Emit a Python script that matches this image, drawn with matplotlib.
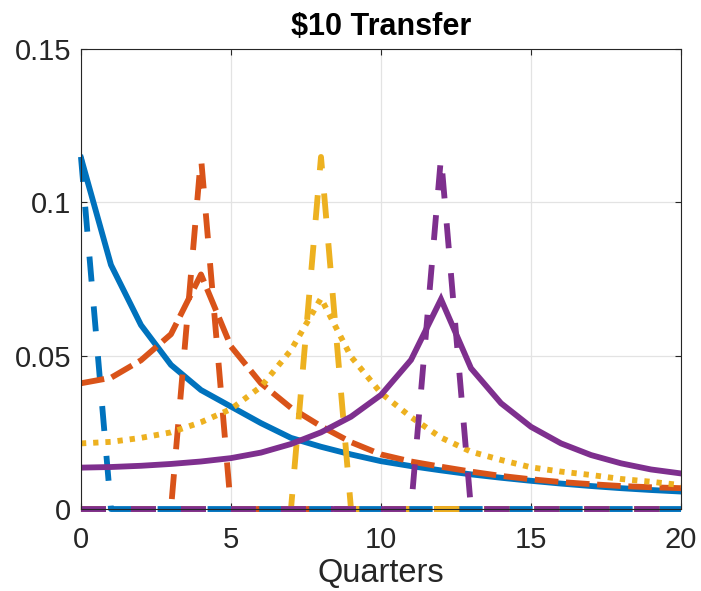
import matplotlib
matplotlib.use("Agg")
import matplotlib.pyplot as plt

plt.rcParams['font.family'] = ['Liberation Sans', 'DejaVu Sans']
plt.rcParams['lines.scale_dashes'] = False

quarters = list(range(21))

# smooth responses
blue_resp = [0.1145, 0.0796, 0.0600, 0.0470, 0.0388, 0.0334, 0.0280, 0.0232, 0.0203, 0.0178,
             0.0156, 0.0140, 0.0126, 0.0113, 0.0102, 0.0092, 0.0083, 0.0075, 0.0068, 0.0062, 0.0057]
orange_resp = [0.0410, 0.0428, 0.0485, 0.0570, 0.0765, 0.0530, 0.0410, 0.0330, 0.0270, 0.0218,
               0.0178, 0.0155, 0.0138, 0.0122, 0.0108, 0.0097, 0.0088, 0.0081, 0.0075, 0.0071, 0.0068]
yellow_resp = [0.0214, 0.0219, 0.0232, 0.0250, 0.0283, 0.0326, 0.0399, 0.0518, 0.0687, 0.0497,
               0.0378, 0.0300, 0.0233, 0.0187, 0.0160, 0.0136, 0.0122, 0.0111, 0.0098, 0.0089, 0.0078]
purple_resp = [0.0135, 0.0137, 0.0141, 0.0147, 0.0155, 0.0166, 0.0184, 0.0212, 0.0250, 0.0301,
               0.0372, 0.0486, 0.0684, 0.0459, 0.0345, 0.0268, 0.0214, 0.0176, 0.0149, 0.0129, 0.0116]

# one-quarter transfer spikes
spike_height = 0.1148
spike_quarters = [0, 4, 8, 12]

colors = ['#0072BD', '#D95319', '#EDB120', '#7E2F8E']
LW = 4.2

fig = plt.figure(figsize=(7.01, 5.91), dpi=100)
ax = fig.add_axes([0.1155, 0.1387, 0.856, 0.7784])

resp = [blue_resp, orange_resp, yellow_resp, purple_resp]
resp_dash = [None, (17, 5.5), (3.8, 5), None]

for i in range(4):
    line, = ax.plot(quarters, resp[i], color=colors[i], lw=LW, solid_joinstyle='miter')
    if resp_dash[i] is not None:
        line.set_dashes(resp_dash[i])
        line.set_dash_capstyle('butt')
    spike = [spike_height if q == spike_quarters[i] else 0 for q in quarters]
    s, = ax.plot(quarters, spike, color=colors[i], lw=LW, clip_on=False)
    s.set_dashes((18, 18))
    s.set_dash_capstyle('butt')

ax.set_xlim(0, 20)
ax.set_ylim(0, 0.15)
ax.set_xticks([0, 5, 10, 15, 20])
ax.set_yticks([0, 0.05, 0.1, 0.15])
ax.set_yticklabels(['0', '0.05', '0.1', '0.15'])
ax.grid(True, color='#e3e3e3', lw=0.9)
ax.set_axisbelow(True)

ax.tick_params(direction='in', length=4, width=0.8, top=True, right=True,
               labelsize=21, colors='#262626')
ax.tick_params(axis='x', pad=12)
ax.tick_params(axis='y', pad=7)
for sp in ax.spines.values():
    sp.set_color('#262626')
    sp.set_linewidth(0.8)

ax.set_xlabel('Quarters', fontsize=23.5, color='#262626', labelpad=3)
ax.set_title('\\$10 Transfer', fontsize=22, fontweight='bold', color='black', pad=10)

fig.savefig('out.png', dpi=100)
